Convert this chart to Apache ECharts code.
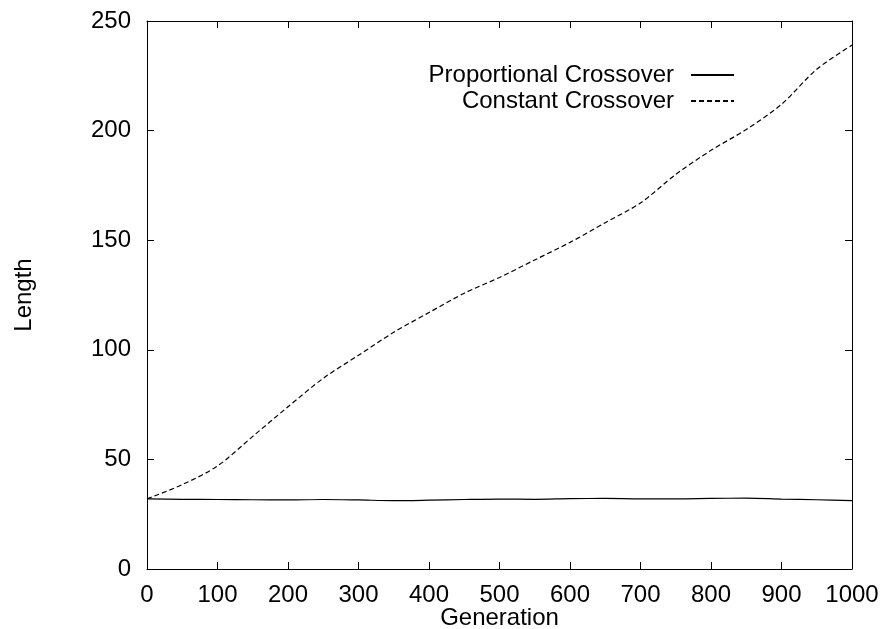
<!DOCTYPE html>
<html>
<head>
<meta charset="utf-8">
<script src="https://cdn.jsdelivr.net/npm/echarts@6/dist/echarts.min.js"></script>
<style>
  html, body { margin: 0; padding: 0; background: #fff; }
  #main { width: 882px; height: 629px; }
</style>
</head>
<body>
<div id="main"></div>
<script>
// generations sampled every 50
var generations = [0, 50, 100, 150, 200, 250, 300, 350, 400, 450, 500,
                   550, 600, 650, 700, 750, 800, 850, 900, 950, 1000];

// average length
var proportional = [32, 31.8, 31.7, 31.6, 31.5, 31.7, 31.5, 31.2, 31.4, 31.7, 31.9,
                    31.8, 32.1, 32.2, 32.0, 32.0, 32.2, 32.3, 31.9, 31.6, 31.2];
var constant = [32, 38.5, 47, 60.5, 74, 87, 97.5, 108, 117, 125.8, 133,
                141, 149, 158, 167, 180, 191, 200.5, 212, 228, 239];

var xTicks = [0, 100, 200, 300, 400, 500, 600, 700, 800, 900, 1000];
var yTicks = [0, 50, 100, 150, 200, 250];

var font = 'Liberation Sans';

function pairs(vals) {
    var out = [];
    for (var i = 0; i < generations.length; i++) out.push([generations[i], vals[i]]);
    return out;
}

var boxLine = { show: true, onZero: false, lineStyle: { color: '#000', width: 1 } };
var inTick = { show: true, inside: true, length: 7, lineStyle: { color: '#000', width: 1 } };
var plain = function (v) { return String(v); };

var myChart = echarts.init(document.getElementById('main'));
myChart.setOption({
    animation: false,
    backgroundColor: '#fff',
    grid: { left: 147, right: 30, top: 21, bottom: 60, containLabel: false, outerBoundsMode: 'none' },
    legend: {
        orient: 'vertical',
        align: 'right',
        right: 147,
        top: 63,
        padding: 0,
        itemWidth: 43,
        itemHeight: 24,
        itemGap: 2,
        itemStyle: { color: 'transparent', borderWidth: 0, opacity: 0 },
        textStyle: { fontFamily: font, fontSize: 24, color: '#000', lineHeight: 24, padding: [0, 12, 0, 0] },
        data: ['Proportional Crossover', 'Constant Crossover']
    },
    xAxis: [{
        type: 'value',
        min: 0, max: 1000, interval: 100,
        name: 'Generation',
        nameLocation: 'middle',
        nameGap: 37,
        nameMoveOverlap: false,
        nameTextStyle: { fontFamily: font, fontSize: 24, color: '#000' },
        axisLine: boxLine,
        axisTick: inTick,
        splitLine: { show: false },
        axisLabel: { fontFamily: font, fontSize: 24, color: '#000', margin: 14, formatter: plain }
    }, {
        type: 'value',
        position: 'top',
        min: 0, max: 1000, interval: 100,
        axisLine: boxLine,
        axisTick: inTick,
        splitLine: { show: false },
        axisLabel: { show: false }
    }],
    yAxis: [{
        type: 'value',
        min: 0, max: 250, interval: 50,
        name: 'Length',
        nameLocation: 'middle',
        nameGap: 111,
        nameMoveOverlap: false,
        nameTextStyle: { fontFamily: font, fontSize: 24, color: '#000' },
        axisLine: boxLine,
        axisTick: inTick,
        splitLine: { show: false },
        axisLabel: { fontFamily: font, fontSize: 24, color: '#000', margin: 16, formatter: plain }
    }, {
        type: 'value',
        position: 'right',
        min: 0, max: 250, interval: 50,
        axisLine: boxLine,
        axisTick: inTick,
        splitLine: { show: false },
        axisLabel: { show: false }
    }],
    series: [{
        name: 'Proportional Crossover',
        type: 'line',
        showSymbol: false,
        symbol: 'none',
        smooth: 0.3,
        lineStyle: { color: '#000', width: 1.2 },
        itemStyle: { color: '#000' },
        data: pairs(proportional)
    }, {
        name: 'Constant Crossover',
        type: 'line',
        showSymbol: false,
        symbol: 'none',
        smooth: 0.3,
        lineStyle: { color: '#000', width: 1.2, type: [5, 3] },
        itemStyle: { color: '#000' },
        data: pairs(constant)
    }]
});
</script>
</body>
</html>
